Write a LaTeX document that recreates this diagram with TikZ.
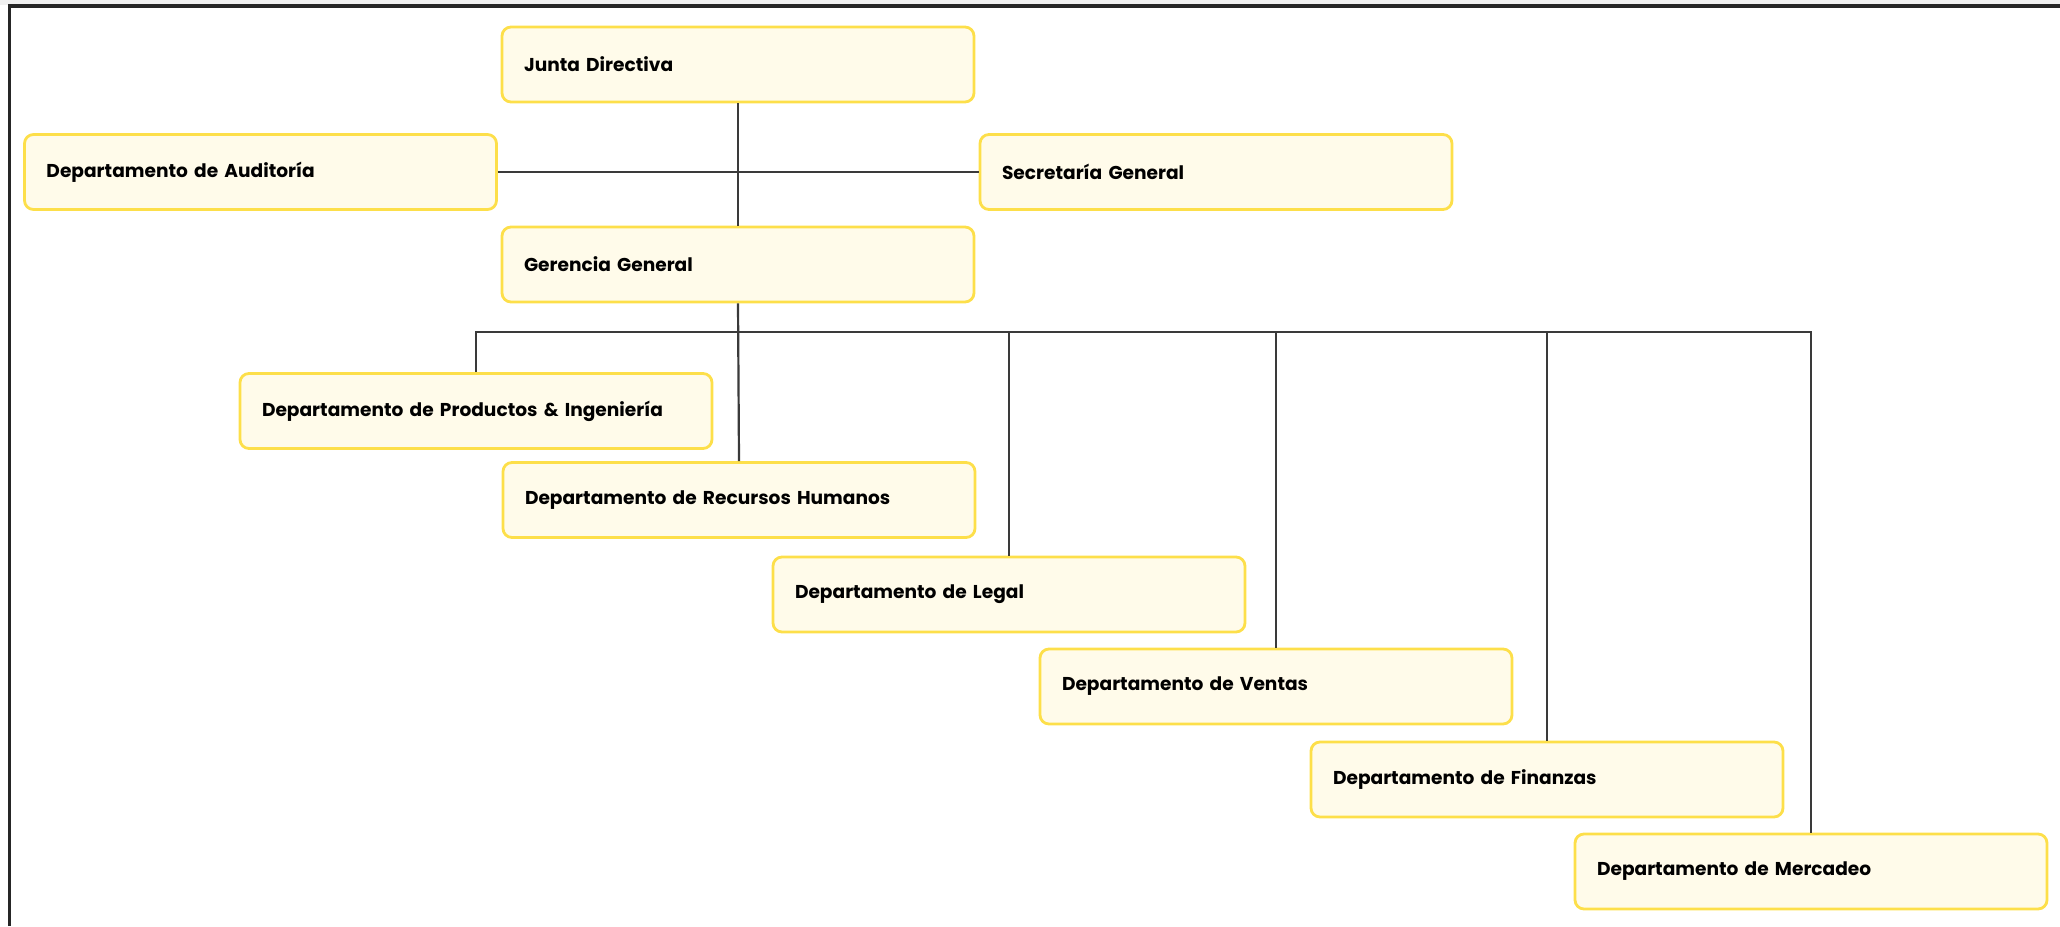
\documentclass[tikz,border=0pt]{standalone}
\usepackage{fontspec}
\setmainfont{Poppins}
\definecolor{boxedge}{HTML}{FDDF4A}
\definecolor{boxfill}{HTML}{FFFBEA}
\definecolor{linkgray}{HTML}{3A3A3A}
\definecolor{framegray}{HTML}{262626}
\begin{document}
\begin{tikzpicture}[x=0.5pt,y=-0.5pt,
  unit/.style={draw=boxedge, fill=boxfill, line width=1.4pt, rounded corners=4.5pt,
    minimum height=37.5pt, text width=214pt, inner xsep=11pt, align=left,
    font=\bfseries\fontsize{9.3}{11}\selectfont},
  link/.style={draw=linkgray, line width=1.1pt}]
  \useasboundingbox (0,0) rectangle (2060,926);
  % page edge and frame
  \fill[black!6] (0,0) rectangle (2060,5);
  \draw[framegray, line width=1.6pt] (9.5,926) |- (2060,6);

  % units
  \node[unit] (junta)  at (738,64.5)  {Junta Directiva};
  \node[unit] (audit)  at (260.5,172) {Departamento de Auditoría};
  \node[unit] (secre)  at (1216,172)  {Secretaría General};
  \node[unit] (geren)  at (738,264.5) {Gerencia General};
  \node[unit] (prod)   at (476,411)   {Departamento de Productos \& Ingeniería};
  \node[unit] (rrhh)   at (739,500)   {Departamento de Recursos Humanos};
  \node[unit] (legal)  at (1009,594.5){Departamento de Legal};
  \node[unit] (ventas) at (1276,686.5){Departamento de Ventas};
  \node[unit] (finan)  at (1547,779.5){Departamento de Finanzas};
  \node[unit] (merca)  at (1811,871.5){Departamento de Mercadeo};

  % connectors
  \coordinate (bus) at (738,332);
  \draw[link] (junta.south) -- (geren.north);
  \draw[link] (audit.east) -- (secre.west);
  \draw[link] (geren.south) -- (rrhh.north);
  \draw[link] (prod.north) |- (bus) -| (merca.north);
  \draw[link] (legal.north) -- (legal.north |- bus);
  \draw[link] (ventas.north) -- (ventas.north |- bus);
  \draw[link] (finan.north) -- (finan.north |- bus);
\end{tikzpicture}
\end{document}
